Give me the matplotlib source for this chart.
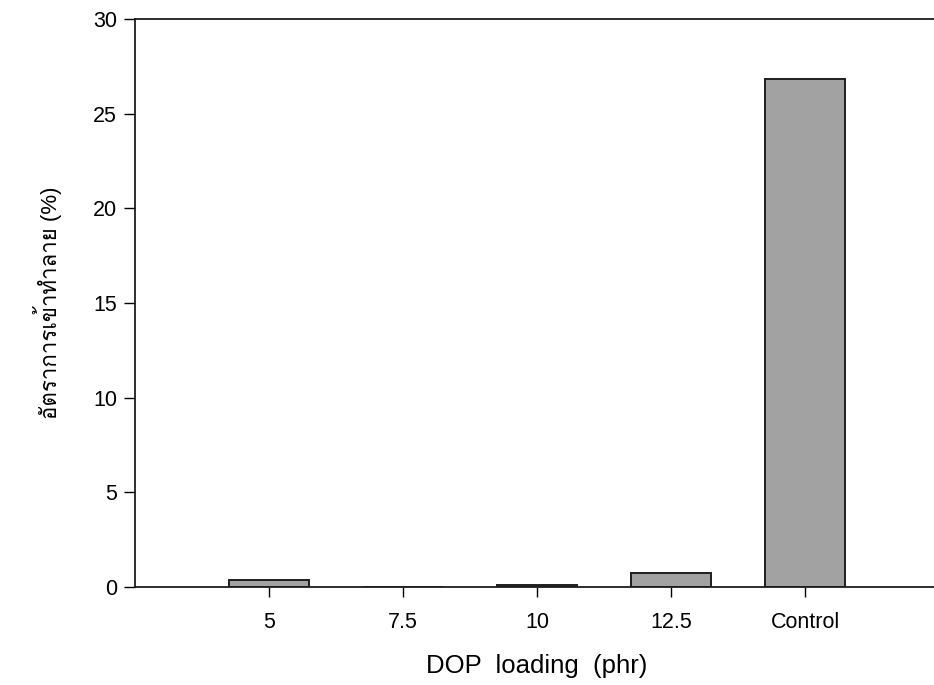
import matplotlib
matplotlib.use("Agg")
import matplotlib.pyplot as plt
from matplotlib import font_manager
import numpy as np

categories = ["5", "7.5", "10", "12.5", "Control"]
damage = [0.37, 0.0, 0.1, 0.74, 26.85]
y_ticks = [0, 5, 10, 15, 20, 25, 30]

# Thai glyphs: prefer Loma, else any installed font that has them
thai_fonts = []
try:
    from fontTools.ttLib import TTFont
    for f in font_manager.fontManager.ttflist:
        try:
            cmap = TTFont(f.fname, fontNumber=0, lazy=True).getBestCmap()
            if cmap and ord("อ") in cmap and f.name not in thai_fonts:
                thai_fonts.append(f.name)
        except Exception:
            pass
except Exception:
    pass
if "Loma" in thai_fonts:
    thai_fonts = ["Loma"]

base = ["Liberation Sans", "DejaVu Sans"]
plt.rcParams["font.family"] = base + thai_fonts

fig = plt.figure(figsize=(9.34, 6.85), dpi=100)
ax = fig.add_axes([135 / 934, 1 - 587 / 685, 804 / 934, 568 / 685])

x = np.arange(len(categories))
ax.bar(x, damage, width=0.6, color="#a2a2a2", edgecolor="#1e1e1e", linewidth=1.4)

ax.set_xlim(-1, 5)
ax.set_ylim(0, 30)
ax.set_yticks(y_ticks)
ax.set_xticks(x)
ax.set_xticklabels(categories, fontsize=15.5)
ax.tick_params(axis="y", labelsize=15.5, direction="out", length=8, width=1, pad=5)
ax.tick_params(axis="x", direction="out", length=7, width=1, pad=11)
for s in ["left", "bottom", "top"]:
    ax.spines[s].set_linewidth(1.3)
    ax.spines[s].set_color("#1e1e1e")
ax.spines["right"].set_visible(False)

ax.set_xlabel("DOP  loading  (phr)", fontsize=18.5, labelpad=15)
ax.set_ylabel("อัตราการเข้าทำลาย (%)", fontsize=16, labelpad=22)

fig.savefig("out.png", dpi=100)
